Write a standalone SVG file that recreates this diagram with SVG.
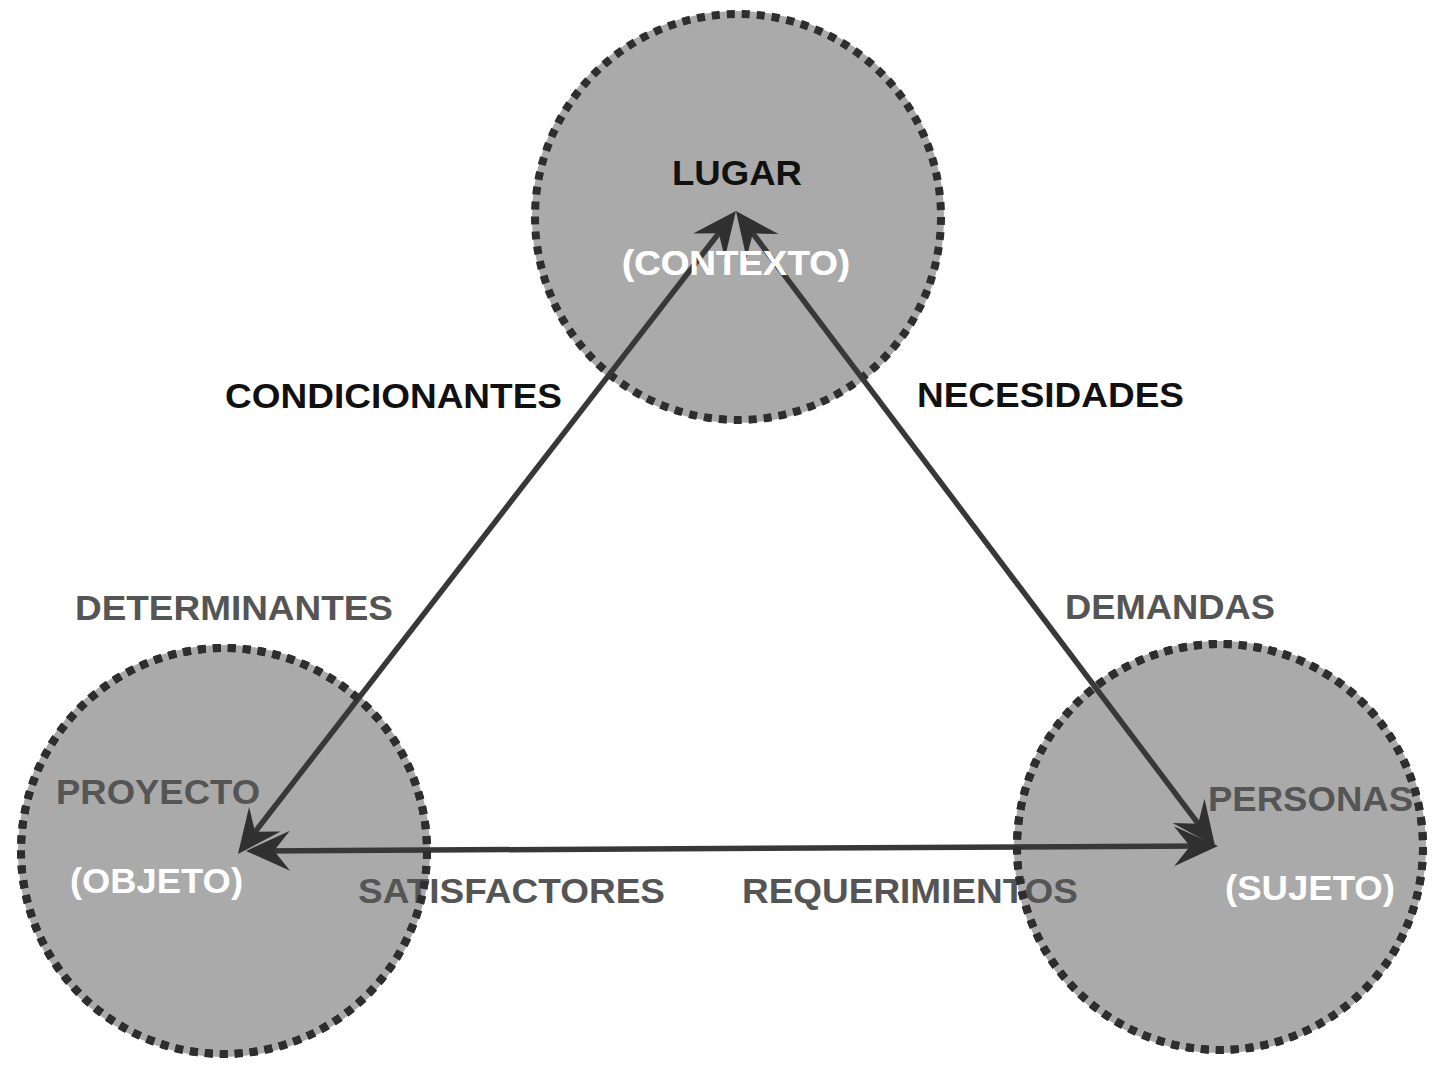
<svg xmlns="http://www.w3.org/2000/svg" xmlns:xlink="http://www.w3.org/1999/xlink" width="1434" height="1067" viewBox="0 0 1434 1067">
  <style>
    .fill { fill: #aaaaaa; stroke: none; }
    .border { fill: none; stroke: #2e2e2e; stroke-width: 8; stroke-dasharray: 8 7; }
    .t { font-family: "Liberation Sans", Arial, sans-serif; font-weight: bold; font-size: 35px; }
    .black { fill: #111111; }
    .gray { fill: #555555; }
    .white { fill: #ffffff; }
    .edge { fill: none; stroke: #383838; stroke-width: 5.5; marker-start: url(#head); marker-end: url(#head); }
  </style>
  <defs>
    <marker id="head" markerUnits="userSpaceOnUse" orient="auto-start-reverse" refX="0" refY="0" markerWidth="90" markerHeight="90" viewBox="-45 -45 90 90" overflow="visible">
      <path d="M12,0 L-32,-20 L-16,0 L-32,20 Z" fill="#303030"/>
    </marker>
  </defs>
  <rect width="1434" height="1067" fill="#ffffff"/>

  <g id="node-lugar">
    <circle class="fill" cx="738" cy="217" r="206"/>
    <circle id="border-lugar" class="border" cx="738" cy="217" r="203"/>
    <text class="t black" x="672" y="185" textLength="130" lengthAdjust="spacingAndGlyphs">LUGAR</text>
    <text id="lugar-sub" class="t white" x="622" y="275" textLength="228" lengthAdjust="spacingAndGlyphs">(CONTEXTO)</text>
  </g>

  <g id="node-proyecto">
    <circle class="fill" cx="224" cy="851" r="206"/>
    <circle id="border-proyecto" class="border" cx="224" cy="851" r="203"/>
    <text class="t gray" x="56" y="804" textLength="204" lengthAdjust="spacingAndGlyphs">PROYECTO</text>
    <text class="t white" x="70" y="893" textLength="173" lengthAdjust="spacingAndGlyphs">(OBJETO)</text>
  </g>

  <g id="node-personas">
    <circle class="fill" cx="1220" cy="847" r="206"/>
    <circle id="border-personas" class="border" cx="1220" cy="847" r="203"/>
    <text class="t gray" x="1208" y="811" textLength="205" lengthAdjust="spacingAndGlyphs">PERSONAS</text>
    <text class="t white" x="1225" y="900" textLength="170" lengthAdjust="spacingAndGlyphs">(SUJETO)</text>
  </g>

  <g id="connectors">
    <line class="edge" x1="245.3" y1="844.5" x2="728.6" y2="220.5"/>
    <line class="edge" x1="743.2" y1="220.6" x2="1207.8" y2="836.4"/>
    <line class="edge" x1="258" y1="850.9" x2="1206" y2="846.1"/>
  </g>

  <g id="edge-labels">
    <text class="t black" x="225" y="408" textLength="337" lengthAdjust="spacingAndGlyphs">CONDICIONANTES</text>
    <text class="t black" x="917" y="407" textLength="267" lengthAdjust="spacingAndGlyphs">NECESIDADES</text>
    <text class="t gray" x="75" y="620" textLength="318" lengthAdjust="spacingAndGlyphs">DETERMINANTES</text>
    <text class="t gray" x="1065" y="619" textLength="210" lengthAdjust="spacingAndGlyphs">DEMANDAS</text>
    <text class="t gray" x="358" y="903" textLength="307" lengthAdjust="spacingAndGlyphs">SATISFACTORES</text>
    <text class="t gray" x="742" y="903" textLength="336" lengthAdjust="spacingAndGlyphs">REQUERIMIENTOS</text>
  </g>

  <g id="overlay">
    <use xlink:href="#lugar-sub"/>
    <use xlink:href="#border-proyecto"/>
    <use xlink:href="#border-personas"/>
  </g>
</svg>
